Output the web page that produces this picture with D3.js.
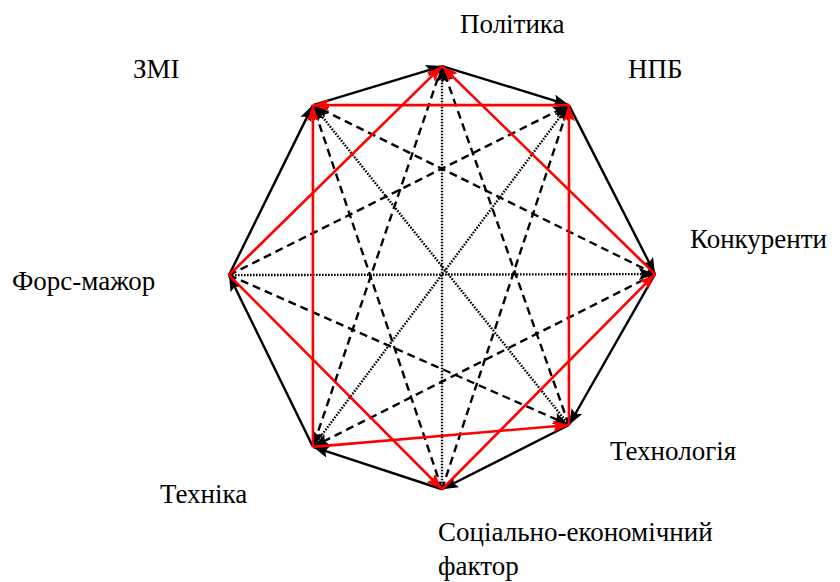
<!DOCTYPE html>
<html lang="uk"><head><meta charset="utf-8">
<script src="https://cdn.jsdelivr.net/npm/d3@7"></script>
<style>
@font-face{font-family:"LabelSerif";src:local("Liberation Serif"),local("LiberationSerif"),local("LiberationSerif-Regular"),local("Times New Roman"),local("Tinos");}
</style>
</head><body style="margin:0">
<svg id="c" width="840" height="582"></svg>
<script>
// Nodes (factors) in normalized data coordinates
const nodeNames = ["Політика","НПБ","Конкуренти","Технологія","Соціально-економічний фактор","Техніка","Форс-мажор","ЗМІ"];
const nodeX = [0, 0.596, 1.0, 0.596, 0, -0.606, -1, -0.606];
const nodeY = [0.976, 0.792, -0.005, -0.717, -1.02, -0.82, -0.01, 0.792];
// Edges [from, to]
const solidEdges = [[7,0],[0,1],[1,2],[2,3],[3,4],[4,5],[5,6],[6,7]];
const redEdges = [[6,0],[2,0],[6,4],[4,2],[1,7],[5,7],[5,3],[3,1]];
const dashedEdges = [[0,5],[3,0],[6,1],[6,3],[2,5],[2,7],[4,7],[4,1]];
const dottedEdges = [[4,0],[6,2],[3,7],[5,1]];
// Label lines
const labelLines = [["Політика"],["НПБ"],["Конкуренти"],["Технологія"],["Соціально-економічний","фактор"],["Техніка"],["Форс-мажор"],["ЗМІ"]];

const svg = d3.select("#c");
const x = d3.scaleLinear().domain([-1,1]).range([229,655]);
const y = d3.scaleLinear().domain([-1,1]).range([485,61]);

const defs = svg.append("defs");
function marker(id,color){
  defs.append("marker").attr("id",id).attr("viewBox","0 0 16 12")
    .attr("refX",16).attr("refY",6).attr("markerWidth",16).attr("markerHeight",12)
    .attr("markerUnits","userSpaceOnUse").attr("orient","auto")
    .append("path").attr("d","M0,0 L16,6 L0,12 L3,6 Z").attr("fill",color);
}
marker("mb","#000"); marker("mr","#ff0000");

function drawEdges(edges,cls,color,width,dash,mk){
  svg.append("g").attr("class",cls).selectAll("line").data(edges).join("line")
    .attr("x1",d=>x(nodeX[d[0]])).attr("y1",d=>y(nodeY[d[0]]))
    .attr("x2",d=>x(nodeX[d[1]])).attr("y2",d=>y(nodeY[d[1]]))
    .attr("stroke",color).attr("stroke-width",width)
    .attr("stroke-dasharray",dash).attr("marker-end",`url(#${mk})`);
}
drawEdges(dottedEdges,"dotted","#000",2.4,"1.6,1.4","mb");
drawEdges(dashedEdges,"dashed","#000",2.4,"8,5","mb");
drawEdges(solidEdges,"solid","#000",2.4,null,"mb");
drawEdges(redEdges,"red","#ff0000",2.6,null,"mr");

// labels (one text element per line)
const labelPos = [[460,33],[628,78],[690,248],[610,460],[438,541],[160,503],[12,290],[133,78]];
labelLines.forEach((lines,i)=>{
  lines.forEach((s,j)=>{
    svg.append("text").attr("x",labelPos[i][0]).attr("y",labelPos[i][1]+j*34)
      .style("font-family",'"Liberation Serif", LabelSerif, Tinos, "Times New Roman", FreeSerif, serif')
      .style("font-size","27px")
      .text(s);
  });
});
</script>
</body></html>
